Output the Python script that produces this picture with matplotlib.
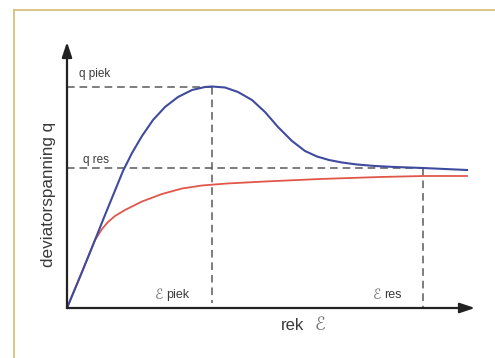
import matplotlib
matplotlib.use("Agg")
import matplotlib.pyplot as plt
from matplotlib.lines import Line2D

# Data (arbitrary units: strain, deviator stress)
strain_peak_curve = [0, 15, 28, 38, 47, 56, 65, 75, 86, 98, 111, 125, 138, 145, 158, 171, 185,
                     198, 211, 225, 238, 250, 262, 275, 290, 308, 328, 356, 400]
q_peak_curve = [0, 36, 68, 93, 115, 137, 155, 172, 188, 201, 211, 218, 221, 221.5, 220.5, 216, 208,
                196, 181, 167, 157, 151.5, 148, 145.5, 143.5, 142, 141, 140, 138]
strain_res_curve = [0, 15, 28, 35, 41, 48, 58, 75, 95, 115, 135, 160, 198, 253, 313, 356, 400]
q_res_curve = [0, 36, 68, 79, 86, 92, 98, 106.5, 114, 119.5, 122.5, 124.5, 126.5, 129, 131, 132, 132]
eps_piek = 145
eps_res = 356
q_piek = 221.5
q_res = 140

plt.rcParams['font.family'] = ['Liberation Sans', 'DejaVu Sans']

fig = plt.figure(figsize=(4.95, 3.58), dpi=100)
fig.patch.set_facecolor('white')

# frame border
border_col = '#d8c07c'
fig.add_artist(Line2D([14/495, 14/495], [0, 1 - 10/358], transform=fig.transFigure, color=border_col, lw=1.3))
fig.add_artist(Line2D([14/495, 1], [1 - 10/358, 1 - 10/358], transform=fig.transFigure, color=border_col, lw=1.3))

ax = fig.add_axes([0, 0, 1, 1])
ax.set_xlim(-67, 428)
ax.set_ylim(-50, 308)
ax.axis('off')

axis_col = '#6e6e6e'
dash_col = '#5a5a5a'
dash = (0, (5, 3.2))

# dashed guide lines
ax.plot([0, eps_piek], [q_piek, q_piek], color=dash_col, lw=1.1, linestyle=dash)
ax.plot([0, eps_res], [q_res, q_res], color=dash_col, lw=1.1, linestyle=dash)
ax.plot([eps_piek, eps_piek], [q_piek, 5], color=dash_col, lw=1.1, linestyle=dash)
ax.plot([eps_res, eps_res], [q_res, 0], color=dash_col, lw=1.1, linestyle=dash)

# axes with arrows
ax.annotate('', xy=(0, 266), xytext=(0, 0),
            arrowprops=dict(arrowstyle='-|>,head_length=0.9,head_width=0.3', color=axis_col, lw=1.6,
                            shrinkA=0, shrinkB=0, fc='#222222', ec='#222222'))
ax.annotate('', xy=(408, 0), xytext=(0, 0),
            arrowprops=dict(arrowstyle='-|>,head_length=0.9,head_width=0.3', color=axis_col, lw=1.6,
                            shrinkA=0, shrinkB=0, fc='#222222', ec='#222222'))

# curves
ax.plot(strain_res_curve, q_res_curve, color='#e0574a', lw=1.3, solid_joinstyle='round')
ax.plot(strain_peak_curve, q_peak_curve, color='#3f4b9e', lw=1.5, solid_joinstyle='round')

tcol = '#3a3a3a'
ax.text(12, 234, 'q piek', fontsize=8.5, color=tcol, va='center', ha='left')
ax.text(16, 148, 'q res', fontsize=8.5, color=tcol, va='center', ha='left')
ax.text(-18, 114, 'deviatorspanning q', fontsize=12.3, color=tcol, rotation=90, va='center', ha='center')
ax.text(88, 13, '\u2130', fontsize=10, color='#777777', va='center', ha='left', family=['DejaVu Sans'])
ax.text(99, 13, 'piek', fontsize=9, color=tcol, va='center', ha='left')
ax.text(306, 13, '\u2130', fontsize=10, color='#777777', va='center', ha='left', family=['DejaVu Sans'])
ax.text(317, 13, 'res', fontsize=9, color=tcol, va='center', ha='left')
ax.text(214, -17, 'rek', fontsize=12, color=tcol, va='center', ha='left')
ax.text(248, -17, '\u2130', fontsize=13, color='#777777', va='center', ha='left', family=['DejaVu Sans'])

fig.savefig('out.png', dpi=100, facecolor='white')
